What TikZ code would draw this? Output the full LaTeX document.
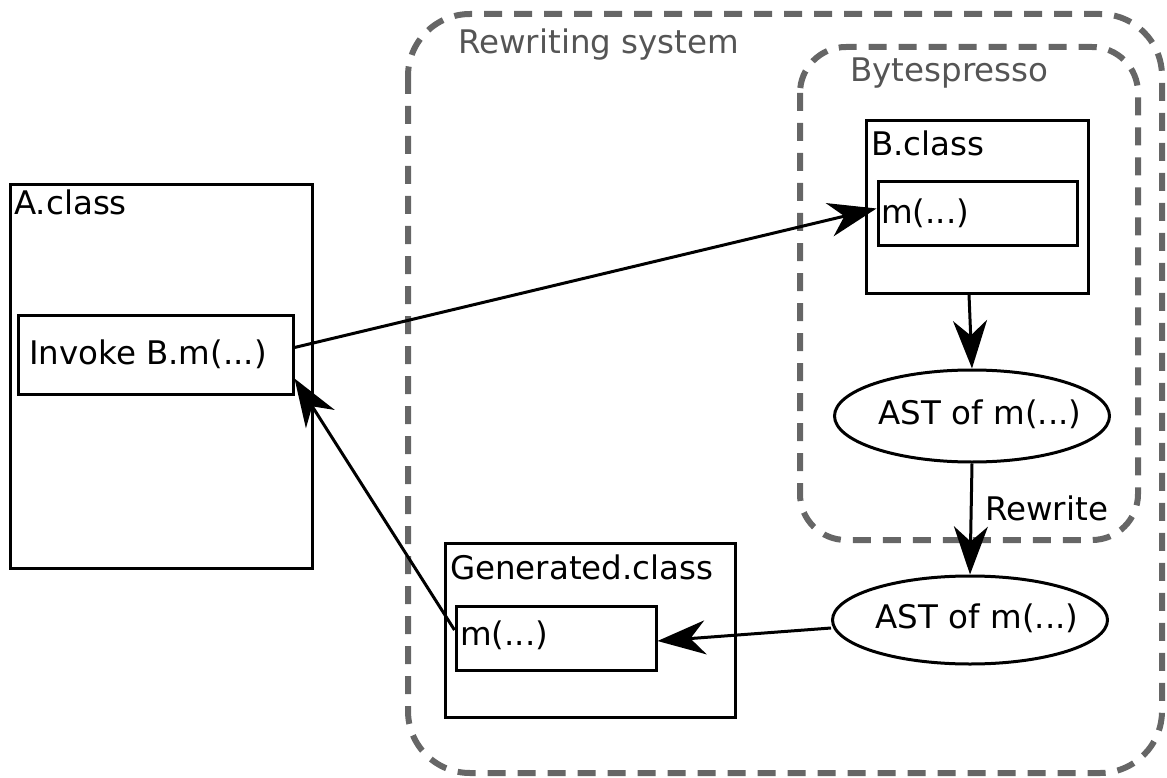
\documentclass[tikz,border=0pt]{standalone}
\usepackage{fontspec}
\setmainfont{DejaVu Sans}
\usetikzlibrary{arrows.meta,shapes.geometric}
\definecolor{dgray}{HTML}{666666}
\definecolor{tgray}{HTML}{555555}
\tikzset{
  box/.style={draw=black, line width=3pt, inner sep=0pt},
  dbox/.style={draw=dgray, line width=6pt, dash pattern=on 18pt off 12pt},
  lbl/.style={font=\fontsize{32.5}{38}\selectfont, inner sep=0pt, text=black},
  glbl/.style={font=\fontsize{32.5}{38}\selectfont, inner sep=0pt, text=tgray},
  ell/.style={draw=black, line width=3pt, ellipse, inner sep=0pt},
  conn/.style={line width=3pt, -{Stealth[length=48pt, width=34pt, inset=15pt]}}
}
\begin{document}
\begin{tikzpicture}[x=1pt,y=-1pt]
\useasboundingbox (0,0) rectangle (1167,778);
% dashed containers
\draw[dbox, rounded corners=62pt] (408,14) rectangle (1162,773);
\node[glbl, anchor=west] (rwlbl) at (458,45) {Rewriting system};
\draw[dbox, rounded corners=46pt] (800,47) rectangle (1138,540);
\node[glbl, anchor=west] (bylbl) at (850,73) {Bytespresso};
% A.class
\node[box, minimum width=302pt, minimum height=383pt] (A) at (161,376.5) {};
\node[lbl, anchor=west] (Albl) at (14,202) {A.class};
\node[box, minimum width=275pt, minimum height=79pt] (inv) at (155.5,354.5) {};
\node[lbl] (invlbl) at (148,354) {Invoke B.m(...)};
% B.class
\node[box, minimum width=222pt, minimum height=172pt] (B) at (977,207) {};
\node[lbl, anchor=west] (Blbl) at (871,143) {B.class};
\node[box, minimum width=199pt, minimum height=63pt] (m1) at (977.5,213.5) {};
\node[lbl, anchor=west] (m1lbl) at (881,213) {m(...)};
% ellipses
\node[ell, minimum width=275pt, minimum height=92pt] (e1) at (972,416) {};
\node[lbl] (e1lbl) at (980,414) {AST of m(...)};
\node[ell, minimum width=275pt, minimum height=88pt] (e2) at (970,620) {};
\node[lbl] (e2lbl) at (977,618) {AST of m(...)};
% Generated.class
\node[box, minimum width=290pt, minimum height=174pt] (G) at (590,630) {};
\node[lbl, anchor=west] (Glbl) at (450,567) {Generated.class};
\node[box, minimum width=200pt, minimum height=64pt] (m2) at (556,638) {};
\node[lbl, anchor=west] (m2lbl) at (460,635) {m(...)};
% connectors
\draw[conn] ([yshift=7pt]inv.east) -- ([yshift=5pt]m1.west);
\draw[conn] ([xshift=-8pt]B.south) -- (e1.north);
\draw[conn] (e1.south) -- (e2.north);
\node[lbl, anchor=west] (rw) at (985,508) {Rewrite};
\draw[conn] ([yshift=-8pt]e2.west) -- ([yshift=-3pt]m2.east);
\draw[conn] ([yshift=8pt]m2.west) -- ([yshift=-24pt]inv.east);
\end{tikzpicture}
\end{document}
